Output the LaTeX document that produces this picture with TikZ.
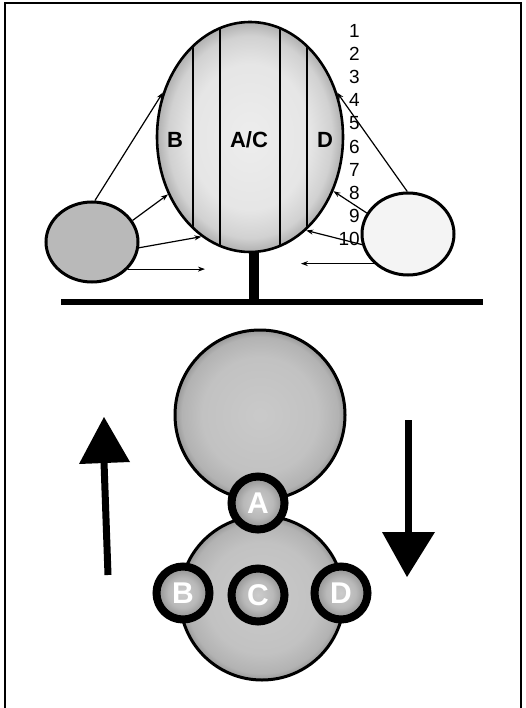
\documentclass[tikz,border=0pt]{standalone}
\usepackage{fontspec}
\setmainfont{Liberation Sans}
\usetikzlibrary{shapes.geometric,arrows.meta}

% soft rims: light centre, darker towards the outline
\pgfdeclareradialshading{crownfill}{\pgfpoint{0bp}{0bp}}{color(0bp)=(gray!14); color(16bp)=(gray!20); color(22bp)=(gray!36); color(25bp)=(gray!62); color(50bp)=(gray!62)}
\pgfdeclareradialshading{ballfill}{\pgfpoint{0bp}{0bp}}{color(0bp)=(gray!42); color(17bp)=(gray!48); color(23bp)=(gray!60); color(25bp)=(gray!80); color(50bp)=(gray!80)}
\pgfdeclareradialshading{sitefill}{\pgfpoint{0bp}{0bp}}{color(0bp)=(gray!40); color(14bp)=(gray!55); color(25bp)=(gray!90); color(50bp)=(gray!90)}

\tikzset{
  thinarrow/.style={-{Stealth[length=7pt,width=5pt]}, line width=1.2pt},
  zone/.style={line width=2.4pt},
  zonelabel/.style={font=\bfseries\fontsize{22}{22}\selectfont},
  rownum/.style={anchor=east, inner sep=0pt, font=\fontsize{19}{19}\selectfont},
  blob/.style={ellipse, draw, line width=3pt, inner sep=0pt},
  ball/.style={circle, draw, line width=3pt, inner sep=0pt, shade, shading=ballfill},
  site/.style={circle, draw=black, line width=8pt, inner sep=0pt, minimum size=53pt,
    shade, shading=sitefill, text=white, font=\bfseries\fontsize{30}{30}\selectfont},
  bigshaft/.style={line width=7pt}
}

\begin{document}
\begin{tikzpicture}[x=1pt,y=-1pt]
\useasboundingbox (0,0) rectangle (525,708);

% frame
\draw[line width=1.6pt] (5,708) -- (5,3) -- (521,3) -- (521,708);

% ---------- upper figure: crown, side bodies, stem ----------
\coordinate (gl) at (61,302);
\coordinate (gr) at (483,302);
\draw[line width=6pt] (gl) -- (gr);

\node[blob, minimum width=186pt, minimum height=230pt, line width=2.6pt,
      shade, shading=crownfill] (crown) at (250,137) {};
\draw[line width=10pt] ([xshift=4pt]crown.south) -- ([xshift=4pt]crown.south |- gl);

\begin{scope}
  \clip (250,137) ellipse [x radius=92pt, y radius=114pt];
  \foreach \x in {193,220,280,307}
    \draw[zone] (\x,10) -- (\x,260);
\end{scope}

\node[zonelabel] (lb) at (175,140) {B};
\node[zonelabel] (lac) at (249,140) {A/C};
\node[zonelabel] (ld) at (325,140) {D};

\foreach \i in {1,...,10}
  \node[rownum] (n\i) at (360,{31+(\i-1)*23.1}) {\i};

\node[blob, minimum width=92pt, minimum height=80pt, fill=gray!55] (lefts) at (92,242) {};
\node[blob, minimum width=92pt, minimum height=82pt, fill=gray!9] (rights) at (408,234) {};

\draw[thinarrow] (lefts.86) -- (crown.153);
\draw[thinarrow] (lefts.28) -- (crown.215);
\draw[thinarrow] (lefts.353) -- (crown.244);
\draw[thinarrow] (lefts.323) -- ++(77,0);

\draw[thinarrow] (rights.91) -- (crown.27);
\draw[thinarrow] (rights.153) -- (crown.327);
\draw[thinarrow] (rights.193) -- (crown.301);
\draw[thinarrow] (rights.221) -- ++(-73,0);

% ---------- lower figure: two spheres and sites ----------
\node[ball, minimum size=170pt] (upper) at (260,415) {};
\node[ball, minimum size=164pt] (lower) at (262,598) {};

\node[site] (A) at (258,503) {A};
\node[site] (B) at (183,593) {B};
\node[site] (C) at (258,595) {C};
\node[site] (D) at (341,593) {D};

% large direction arrows
\draw[bigshaft] (108,575) -- (104,462);
\fill (79,464) -- (130,462) -- (104,417) -- cycle;
\draw[bigshaft] (408,420) -- (408,534);
\fill (382,532) -- (435,532) -- (407,577) -- cycle;
\end{tikzpicture}
\end{document}
